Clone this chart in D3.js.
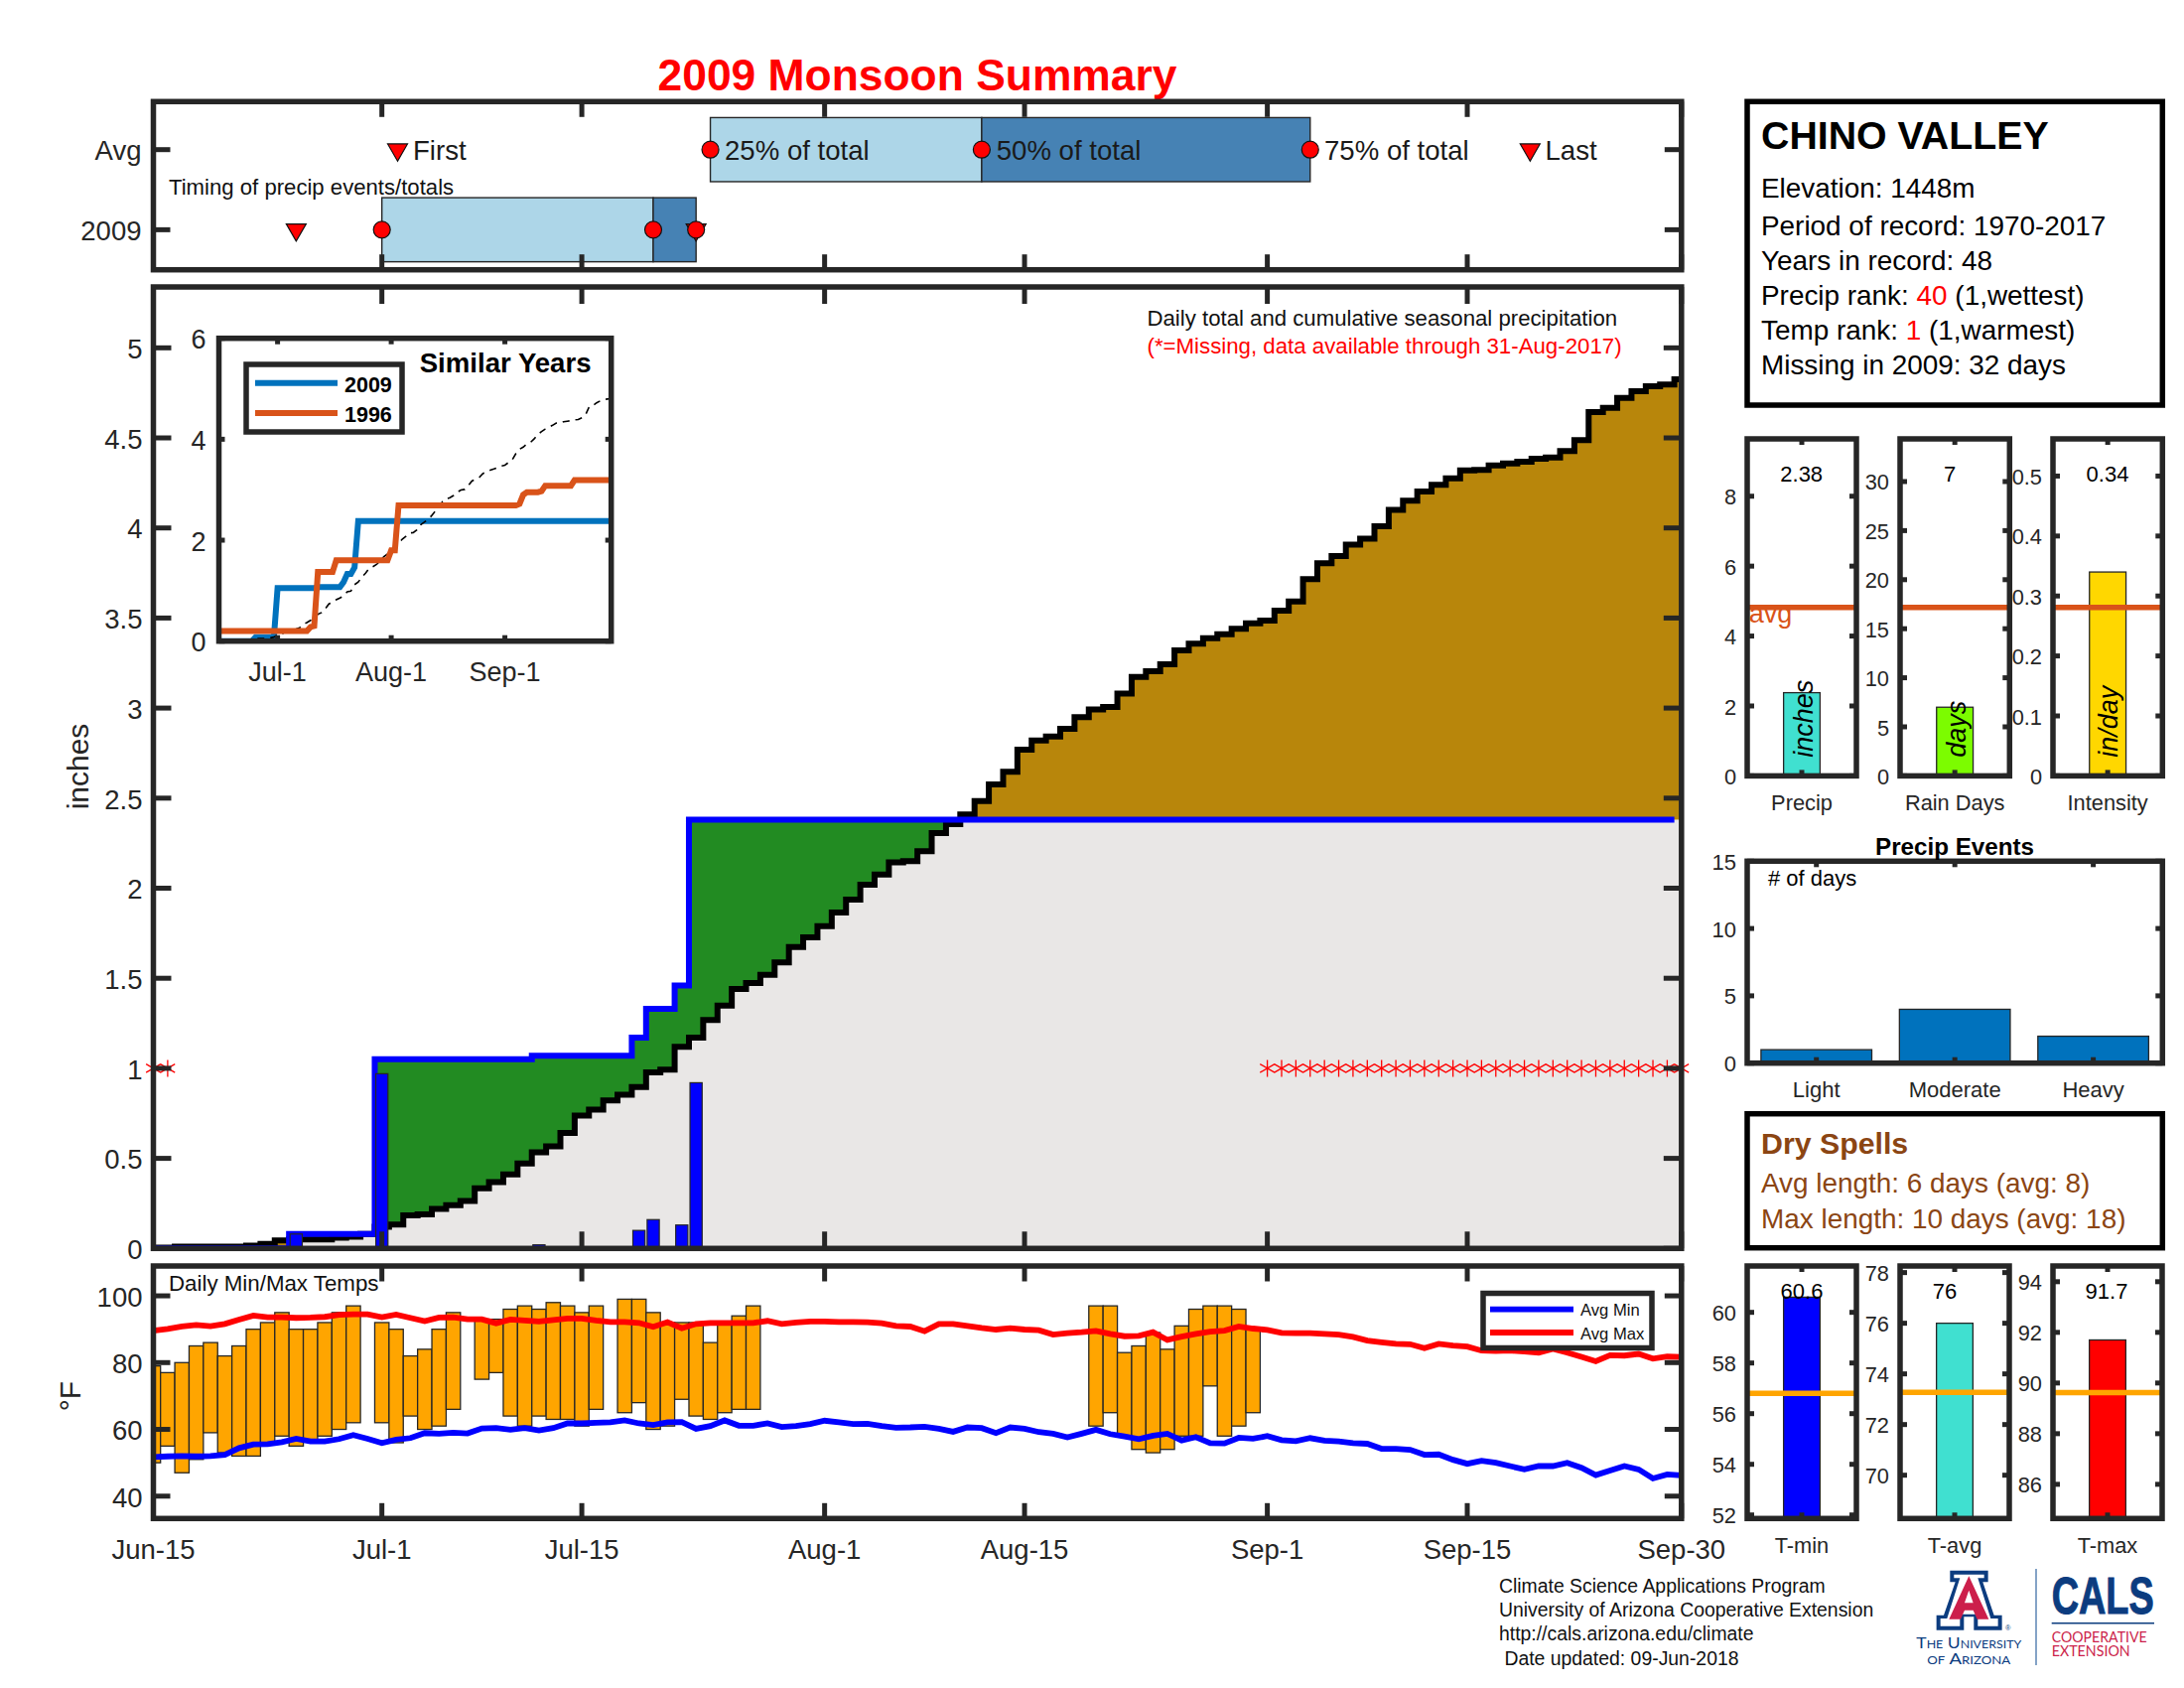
<!DOCTYPE html>
<html><head><meta charset="utf-8">
<script src="https://cdn.jsdelivr.net/npm/d3@7/dist/d3.min.js"></script>
<style>
html,body{margin:0;padding:0;background:#fff}
svg{display:block}
text{font-family:"Liberation Sans",Arial,sans-serif}
</style></head><body>
<svg id="c" width="2200" height="1700"></svg>
<script>
// ---------- data ----------
const dayTicks=[0,16,30,47,61,78,92,107];
const dayLabels=["Jun-15","Jul-1","Jul-15","Aug-1","Aug-15","Sep-1","Sep-15","Sep-30"];
const insetDayTicks=[16,47,78];
const insetDayLabels=["Jul-1","Aug-1","Sep-1"];
const dailyPrecip=[0,0,0,0,0,0,0,0,0,0,0.08,0,0,0,0,0,0.97,0,0,0,0,0,0,0,0,0,0,0.02,0,0,0,0,0,0,0.10,0.16,0,0.13,0.92,0,
0,0,0,0,0,0,0,0,0,0,0,0,0,0,0,0,0,0,0,0,0,0,0,0,0,0,0,0,0,0,0,0,0,0,0,0,0,0,0,0,
0,0,0,0,0,0,0,0,0,0,0,0,0,0,0,0,0,0,0,0,0,0,0,0,0,0,0,0];
const avgCumPrecip=[.005,.005,.01,.01,.01,.01,.01,.015,.025,.044,.05,.05,.05,.06,.065,.08,.12,.132,.183,.189,.22,.24,.264,.334,.368,.411,.472,.533,.567,.641,.738,.771,.821,.854,.896,.977,.992,1.12,1.17,1.268,
1.348,1.44,1.474,1.519,1.588,1.674,1.727,1.789,1.865,1.937,2.019,2.076,2.144,2.15,2.205,2.306,2.356,2.41,2.484,2.576,2.646,2.769,2.82,2.842,2.885,2.949,2.993,3.006,3.08,3.173,3.205,3.243,3.32,3.357,3.388,3.41,3.44,3.471,3.486,3.541,
3.592,3.716,3.804,3.844,3.908,3.94,4.009,4.10,4.151,4.202,4.239,4.276,4.32,4.322,4.347,4.358,4.368,4.384,4.391,4.427,4.487,4.643,4.667,4.722,4.759,4.787,4.796,4.825];
const similar1996=[.2,.2,.2,.2,.2,.2,.2,.2,.2,.2,.2,.2,.2,.2,.2,.2,.2,.2,.2,.2,.2,.2,.2,.2,.2,.28,.3,1.37,1.37,1.37,1.37,1.37,1.6,1.6,1.6,1.6,1.6,1.6,1.6,1.6,
1.6,1.6,1.6,1.6,1.6,1.6,1.6,1.8,1.8,2.69,2.69,2.69,2.69,2.69,2.69,2.69,2.69,2.69,2.69,2.69,2.69,2.69,2.69,2.69,2.69,2.69,2.69,2.69,2.69,2.69,2.69,2.69,2.69,2.69,2.69,2.69,2.69,2.69,2.69,2.69,
2.69,2.69,2.72,2.9,2.95,2.95,2.95,2.95,2.97,3.08,3.08,3.08,3.08,3.08,3.08,3.08,3.08,3.19,3.19,3.19,3.19,3.19,3.19,3.19,3.19,3.19,3.19,3.19];
const missingDays=[0,1,78,79,80,81,82,83,84,85,86,87,88,89,90,91,92,93,94,95,96,97,98,99,100,101,102,103,104,105,106,107];
const mainYTicks=[0,.5,1,1.5,2,2.5,3,3.5,4,4.5,5];
const tMax=[79,77,80,85,86,82,85,90,92,95,90,90,92,95,97,null,92,90,82,84,90,95,null,93,93,96,97,96,98,97,95,97,null,99,99,95,92,92,92,86,92,94,97,
null,null,null,null,null,null,null,null,null,null,null,null,null,null,null,null,null,null,null,null,null,null,null,
97,97,83,85,89,84,91,96,97,97,96,90,
null,null,null,null,null,null,null,null,null,null,null,null,null,null,null,null,null,null,null,null,null,null,null,null,null,null,null,null,null,null];
const tMin=[50,55,47,51,59,53,52,52,56,58,55,57,58,60,62,null,62,56,64,60,61,66,null,75,77,64,61,64,63,63,61,66,null,65,68,60,61,69,64,63,65,66,66,
null,null,null,null,null,null,null,null,null,null,null,null,null,null,null,null,null,null,null,null,null,null,null,
61,65,58,54,53,54,58,58,73,58,61,65,
null,null,null,null,null,null,null,null,null,null,null,null,null,null,null,null,null,null,null,null,null,null,null,null,null,null,null,null,null,null];
const avgMax=[89.6,90.1,90.8,91.3,90.9,91.6,92.9,94.1,93.6,93.6,93.4,93.5,93.7,94.3,94.5,94.5,93.6,94.4,93.4,92.4,93.5,93.6,93.0,93.0,91.8,92.9,92.6,92.3,92.8,93.2,93.2,92.6,92.2,92.2,91.9,90.7,92.1,90.3,91.6,91.9,
91.9,91.9,91.9,92.5,91.6,92.0,92.3,92.3,92.2,92.2,92.1,91.8,91.0,90.8,89.4,91.6,91.6,91.0,90.4,89.9,90.3,89.9,89.7,88.4,88.8,89.1,89.5,88.6,87.9,88.0,89.1,86.8,87.8,88.6,89.3,89.6,90.8,90.2,89.8,88.9,
88.8,88.8,88.6,88.4,87.7,86.6,86.1,85.6,85.5,84.3,85.6,85.1,84.8,83.6,83.5,83.6,83.3,83.0,84.1,83.0,81.7,80.4,82.2,82.1,82.6,81.2,81.8,81.7];
const avgMin=[51.7,51.9,52.0,51.9,52.0,52.4,54.4,55.5,55.6,56.2,57.2,56.4,56.4,57.1,58.3,57.2,55.9,56.9,57.4,58.9,58.7,59.0,58.8,60.3,60.4,59.9,60.4,59.7,60.4,61.8,61.8,62.0,62.1,62.7,61.8,61.3,62.1,62.2,60.2,61.0,
62.7,61.1,61.1,61.8,60.7,61.0,61.6,62.6,62.1,61.6,61.7,61.0,60.5,60.6,60.8,60.2,59.3,60.6,60.4,58.9,60.6,60.2,59.2,58.7,57.6,58.7,59.9,58.6,57.9,57.1,58.1,58.7,56.7,57.7,55.9,55.8,57.5,57.2,58.0,56.8,
56.5,57.4,56.6,56.4,55.9,55.7,54.2,54.2,53.9,52.4,52.5,50.9,49.7,50.6,50.0,49.0,48.0,49.0,49.0,50.0,48.5,46.3,47.7,49.0,48.0,45.3,46.5,46.2];
const tempYTicks=[40,60,80,100];
const timingRows=["2009","Avg"];
const timingFirst=[10,17.1];
const timingLast=[38,96.4];
const timing25=[16,39];
const timing50=[35,58];
const timing75=[38,81];
const timingLabels=[[17.1,"First",416],[39,"25% of total",730],[58,"50% of total",1003.7],[81,"75% of total",1334],[96.4,"Last",1556.5]];
const statNames=["Precip","Rain Days","Intensity"];
const statValues=[2.38,7,0.34];
const statAvgs=[4.82,17.18,0.281];
const statTexts=["2.38","7","0.34"];
const statUnits=["inches","days","in/day"];
const statColors=["#40E0D0","#7CFC00","#FFD700"];
const statMax=[9.64,34.35,0.562];
const statTicks=[[0,2,4,6,8],[0,5,10,15,20,25,30],[0,.1,.2,.3,.4,.5]];
const eventNames=["Light","Moderate","Heavy"];
const eventValues=[1,4,2];
const eventTicks=[0,5,10,15];
const tempNames=["T-min","T-avg","T-max"];
const tempValues=[60.6,76,91.7];
const tempTexts=["60.6","76","91.7"];
const tempAvgs=[56.8,73.27,89.62];
const tempColors=["#0000FF","#40E0D0","#FF0000"];
const tempDomains=[[51.86,61.83],[68.29,78.26],[84.65,94.62]];
const tempTicks=[[52,54,56,58,60],[70,72,74,76,78],[86,88,90,92,94]];
const cityLines=["Elevation: 1448m","Period of record: 1970-2017","Years in record: 48"];
const footer=["Climate Science Applications Program","University of Arizona Cooperative Extension","http://cals.arizona.edu/climate"," Date updated: 09-Jun-2018"];

// ---------- helpers ----------
const svg=d3.select("#c");
const INK="#262626";
const cum=Array.from(d3.cumsum(dailyPrecip));
const days=d3.range(108);
const X0=154.5,X1=1693.8;
const x=d3.scaleLinear().domain([0,107]).range([X0,X1]);

function frame(g,l,t,r,b,color,w){
  g.append("rect").attr("x",l).attr("y",t).attr("width",r-l).attr("height",b-t)
   .attr("fill","none").attr("stroke",color||INK).attr("stroke-width",w||5.5);
}
function axes(xs,ys,o){
  const [l,r]=xs.range(),[b,t]=ys.range();
  const g=svg.append("g");
  const tw=o.tw||5;
  const st=s=>{s.select(".domain").remove();
    s.selectAll(".tick line").attr("stroke",INK).attr("stroke-width",tw);
    s.selectAll(".tick text").attr("fill",INK).style("font-family",'"Liberation Sans",Arial,sans-serif').style("font-size",(o.fs||27)+"px");};
  const xf=o.xf||(()=>"");
  g.append("g").attr("transform",`translate(0,${b})`).call(d3.axisBottom(xs).tickValues(o.xv).tickSize(-o.xl).tickPadding(o.xp||19).tickFormat(xf).offset(0)).call(st);
  g.append("g").attr("transform",`translate(0,${t})`).call(d3.axisTop(xs).tickValues(o.xv).tickSize(-o.xl).tickFormat("").offset(0)).call(st);
  const la=g.append("g").attr("transform",`translate(${l},0)`).call(d3.axisLeft(ys).tickValues(o.yv).tickSize(-o.yl).tickPadding(o.yp||11).tickFormat(o.yf||d3.format("")).offset(0)).call(st);
  la.selectAll(".tick text").attr("dy","0.39em");
  g.append("g").attr("transform",`translate(${r},0)`).call(d3.axisRight(ys).tickValues(o.yv).tickSize(-o.yl).tickFormat("").offset(0)).call(st);
  frame(g,l,t,r,b);
  return g;
}
function label(s,xp,yp,size,opts){
  opts=opts||{};
  const t=svg.append("text").attr("x",xp).attr("y",yp).text(s).attr("font-size",size)
    .attr("fill",opts.fill||"#000").attr("text-anchor",opts.anchor||"start");
  if(opts.bold)t.attr("font-weight","bold");
  if(opts.italic)t.attr("font-style","italic");
  if(opts.rot)t.attr("transform",`rotate(-90 ${xp} ${yp})`);
  return t;
}
function stairPts(v){const p=v.map((d,i)=>[i-.5,d]);p.push([v.length-.5,v[v.length-1]]);return p;}
function clip(id,l,t,r,b){svg.append("clipPath").attr("id",id).append("rect").attr("x",l).attr("y",t).attr("width",r-l).attr("height",b-t);}

// ---------- title ----------
label("2009 Monsoon Summary",924,90.7,44.4,{bold:true,fill:"#FF0000",anchor:"middle"});

// ---------- timing panel ----------
const yT=d3.scaleLinear().domain([0.5,2.6]).range([271.7,102.3]);
const tim=svg.append("g");
[0,1].forEach(i=>{
  const row=i+1;
  tim.append("rect").attr("x",x(timing25[i])).attr("width",x(timing50[i])-x(timing25[i])).attr("y",yT(row+.4)).attr("height",yT(row-.4)-yT(row+.4))
    .attr("fill","#ADD6E8").attr("stroke",INK).attr("stroke-width",1.4);
  tim.append("rect").attr("x",x(timing50[i])).attr("width",x(timing75[i])-x(timing50[i])).attr("y",yT(row+.4)).attr("height",yT(row-.4)-yT(row+.4))
    .attr("fill","#4682B4").attr("stroke",INK).attr("stroke-width",1.4);
  const tri=d3.symbol().type(d3.symbolTriangle).size(173)();
  [timingFirst[i],timingLast[i]].forEach(d=>{
    tim.append("path").attr("d",tri).attr("transform",`translate(${x(d)},${yT(row)}) rotate(180)`).attr("fill","#FF0000").attr("stroke","#111").attr("stroke-width",1.2);
  });
  [timing25[i],timing50[i],timing75[i]].forEach(d=>{
    tim.append("circle").attr("cx",x(d)).attr("cy",yT(row)).attr("r",8.5).attr("fill","#FF0000").attr("stroke","#111").attr("stroke-width",1.2);
  });
});
timingLabels.forEach(d=>label(d[1],d[2],160.7,27.6,{fill:"#1a1a1a"}));
label("Timing of precip events/totals",170,195.5,22.15,{fill:"#111"});
axes(x,yT,{xv:dayTicks,xl:15.5,yv:[1,2],yl:17,fs:27.5,yp:12,yf:d=>timingRows[d-1]});

// ---------- main panel ----------
const yM=d3.scaleLinear().domain([0,5.338]).range([1257.3,289]);
clip("cm",X0,289,X1,1257.3);
const pts=days.map(d=>({d,a:avgCumPrecip[d],b:cum[d]}));
const edge=pts.map(p=>({d:p.d-.5,a:p.a,b:p.b}));
edge.push({d:107.5,a:pts[107].a,b:pts[107].b});
const area=(y0,y1)=>d3.area().curve(d3.curveStepAfter).x(p=>x(p.d)).y0(p=>yM(y0(p))).y1(p=>yM(y1(p)));
const plot=svg.append("g").attr("clip-path","url(#cm)");
plot.append("path").attr("d",area(()=>0,p=>Math.min(p.a,p.b))(edge)).attr("fill","#E9E7E6");
plot.append("path").attr("d",area(p=>Math.min(p.a,p.b),p=>p.b)(edge)).attr("fill","#228B22");
plot.append("path").attr("d",area(p=>p.b,p=>Math.max(p.a,p.b))(edge)).attr("fill","#B8860B");
const stair=d3.line().curve(d3.curveStepAfter).x(p=>x(p[0])).y(p=>yM(p[1]));
plot.append("path").attr("d",stair(stairPts(avgCumPrecip))).attr("fill","none").attr("stroke","#000").attr("stroke-width",6);
plot.append("path").attr("d",stair(stairPts(cum.slice(0,107)))).attr("fill","none").attr("stroke","#0000FF").attr("stroke-width",6);
plot.selectAll("rect.b").data(days.filter(d=>dailyPrecip[d]>0)).join("rect").attr("class","b")
  .attr("x",d=>x(d-.425)).attr("width",d=>x(.85)-x(0)).attr("y",d=>yM(dailyPrecip[d])).attr("height",d=>yM(0)-yM(dailyPrecip[d]))
  .attr("fill","#0000FF").attr("stroke",INK).attr("stroke-width",1.2);
const symA=d3.symbol().type(d3.symbolAsterisk).size(204)();
const stars=svg.append("g").attr("fill","none").attr("stroke","#FF0000").attr("stroke-width",1.3);
missingDays.forEach(d=>{
  stars.append("path").attr("d",symA).attr("transform",`translate(${x(d)},${yM(1)})`);
});
axes(x,yM,{xv:dayTicks,xl:17,yv:mainYTicks,yl:18,fs:27.5,yf:d=>d3.format("")(d)});
label("inches",89,772,30,{fill:INK,anchor:"middle",rot:true});
label("Daily total and cumulative seasonal precipitation",1155.5,327.5,22.2,{fill:"#111"});
label("(*=Missing, data available through 31-Aug-2017)",1155.5,355.5,22.25,{fill:"#FF0000"});

// ---------- inset ----------
const xI=d3.scaleLinear().domain([0,107]).range([220.5,615.7]);
const yI=d3.scaleLinear().domain([0,6]).range([645.7,340.7]);
svg.append("rect").attr("x",220.5).attr("y",340.7).attr("width",395.2).attr("height",305).attr("fill","#fff");
clip("ci",220.5,340.7,615.7,645.7);
const il=d3.line().x((v,i)=>xI(i)).y(v=>yI(v));
const ins=svg.append("g").attr("clip-path","url(#ci)");
ins.append("path").attr("d",il(cum)).attr("fill","none").attr("stroke","#0072BD").attr("stroke-width",6);
ins.append("path").attr("d",il(avgCumPrecip)).attr("fill","none").attr("stroke","#000").attr("stroke-width",1.6).attr("stroke-dasharray","7 6");
ins.append("path").attr("d",il(similar1996)).attr("fill","none").attr("stroke","#D95319").attr("stroke-width",6);
axes(xI,yI,{xv:insetDayTicks,xl:6,yv:[0,2,4,6],yl:6,fs:27,yp:13,xp:21,xf:(d,i)=>insetDayLabels[i]});
const lg=svg.append("g");
lg.append("rect").attr("x",248).attr("y",367).attr("width",157).attr("height",68).attr("fill","#fff").attr("stroke",INK).attr("stroke-width",5.5);
[[385.7,"#0072BD","2009",394.5],[416,"#D95319","1996",425]].forEach(r=>{
  lg.append("line").attr("x1",257).attr("x2",340).attr("y1",r[0]).attr("y2",r[0]).attr("stroke",r[1]).attr("stroke-width",6);
  label(r[2],347,r[3],21.5,{bold:true});
});
label("Similar Years",422.7,375,27.6,{bold:true});

// ---------- temperature panel ----------
const yD=d3.scaleLinear().domain([33.3,108.94]).range([1529.3,1275]);
clip("ct",X0,1275,X1,1529.3);
const tp=svg.append("g").attr("clip-path","url(#ct)");
tp.selectAll("rect").data(days.filter(d=>tMax[d]!==null)).join("rect")
  .attr("x",d=>x(d-.5)).attr("width",d=>x(1)-x(0)).attr("y",d=>yD(tMax[d])).attr("height",d=>yD(tMin[d])-yD(tMax[d]))
  .attr("fill","#FFA500").attr("stroke",INK).attr("stroke-width",1.3);
const tl=d3.line().x((v,i)=>x(i)).y(v=>yD(v));
tp.append("path").attr("d",tl(avgMin)).attr("fill","none").attr("stroke","#0000FF").attr("stroke-width",5.8);
tp.append("path").attr("d",tl(avgMax)).attr("fill","none").attr("stroke","#FF0000").attr("stroke-width",5.8);
label("Daily Min/Max Temps",170,1299.5,22.3,{fill:"#111"});
axes(x,yD,{xv:dayTicks,xl:15.5,yv:tempYTicks,yl:17,fs:27.5,xp:21,xf:(d,i)=>dayLabels[i]});
label("\u00B0F",81,1406,30,{fill:INK,anchor:"middle",rot:true});
const tlg=svg.append("g");
tlg.append("rect").attr("x",1494).attr("y",1302.5).attr("width",170).attr("height",55).attr("fill","#fff").attr("stroke",INK).attr("stroke-width",5.5);
[[1318.7,"#0000FF","Avg Min"],[1342,"#FF0000","Avg Max"]].forEach(r=>{
  tlg.append("line").attr("x1",1501).attr("x2",1585).attr("y1",r[0]).attr("y2",r[0]).attr("stroke",r[1]).attr("stroke-width",5.8);
  label(r[2],1592,r[0]+6.5,16.6,{fill:"#111"});
});

// ---------- station box ----------
const PW=1760,PE=2178.3;
frame(svg,PW,102.3,PE,408,"#000",5.5);
label("CHINO VALLEY",1774,150,39.3,{bold:true});
cityLines.forEach((s,i)=>label(s,1774,[199,237,272][i],27.9));
const r1=label("Precip rank: ",1774,307,27.9);r1.append("tspan").attr("fill","#FF0000").text("40");r1.append("tspan").text(" (1,wettest)");
const r2=label("Temp rank: ",1774,342,27.9);r2.append("tspan").attr("fill","#FF0000").text("1");r2.append("tspan").text(" (1,warmest)");
label("Missing in 2009: 32 days",1774,377,27.9);

// ---------- three stat panels ----------
const statL=[1760,1914,2068],statR=[1870,2024.3,2178.3],statTextX=[1814.7,1964,2123],unitX=[1826,1980,2133];
statNames.forEach((n,i)=>{
  const xs=d3.scaleLinear().domain([0,1]).range([statL[i],statR[i]]);
  const ys=d3.scaleLinear().domain([0,statMax[i]]).range([781.4,442]);
  svg.append("rect").attr("x",xs(.333)).attr("width",xs(.667)-xs(.333)).attr("y",ys(statValues[i])).attr("height",ys(0)-ys(statValues[i]))
    .attr("fill",statColors[i]).attr("stroke",INK).attr("stroke-width",1.3);
  svg.append("line").attr("x1",xs(0)).attr("x2",xs(1)).attr("y1",ys(statAvgs[i])).attr("y2",ys(statAvgs[i])).attr("stroke","#D95319").attr("stroke-width",5.5);
  axes(xs,ys,{xv:[.5],xl:6,yv:statTicks[i],yl:7,fs:21.8,xf:()=>n,yf:d=>d3.format("")(d)});
  label(statTexts[i],statTextX[i],485,22,{anchor:"middle"});
  label(statUnits[i],unitX[i],762.7,27,{italic:true,rot:true});
});
label("avg",1761.7,626.7,27,{fill:"#D95319"});

// ---------- precip events ----------
const xEc=d3.scalePoint().domain(eventNames).range([PW+69.7,PE-69.7]);
const yE=d3.scaleLinear().domain([0,15]).range([1070.7,867.3]);
svg.selectAll("rect.e").data(eventNames).join("rect").attr("class","e")
  .attr("x",d=>xEc(d)-55.8).attr("width",111.6).attr("y",(d,i)=>yE(eventValues[i])).attr("height",(d,i)=>yE(0)-yE(eventValues[i]))
  .attr("fill","#0072BD").attr("stroke",INK).attr("stroke-width",1.3);
{
  const g=svg.append("g");
  const st=s=>{s.select(".domain").remove();s.selectAll(".tick line").attr("stroke",INK).attr("stroke-width",5);
    s.selectAll(".tick text").attr("fill",INK).style("font-family",'"Liberation Sans",Arial,sans-serif').style("font-size","22px");};
  g.append("g").attr("transform","translate(0,1070.7)").call(d3.axisBottom(xEc).tickSize(-6).tickPadding(18.5).offset(0)).call(st);
  g.append("g").attr("transform","translate(0,867.3)").call(d3.axisTop(xEc).tickSize(-6).tickFormat("").offset(0)).call(st);
  g.append("g").attr("transform",`translate(${PW},0)`).call(d3.axisLeft(yE).tickValues(eventTicks).tickSize(-7).tickPadding(11).offset(0)).call(st)
    .selectAll(".tick text").attr("dy","0.39em");
  g.append("g").attr("transform",`translate(${PE},0)`).call(d3.axisRight(yE).tickValues(eventTicks).tickSize(-7).tickFormat("").offset(0)).call(st);
  frame(g,PW,867.3,PE,1070.7);
}
label("Precip Events",1969,860.5,24.2,{bold:true,anchor:"middle"});
label("# of days",1781,891.7,22);

// ---------- dry spells ----------
frame(svg,PW,1121.7,PE,1256.7,"#000",5.5);
label("Dry Spells",1774,1161.7,30.3,{bold:true,fill:"#8B4513"});
label("Avg length: 6 days (avg: 8)",1774,1201,27.9,{fill:"#8B4513"});
label("Max length: 10 days (avg: 18)",1774,1237,27.9,{fill:"#8B4513"});

// ---------- temperature stat panels ----------
const tempTextX=[1815,1959,2122];
tempNames.forEach((n,i)=>{
  const xs=d3.scaleLinear().domain([0,1]).range([statL[i],[1870,2024,2178][i]]);
  const ys=d3.scaleLinear().domain(tempDomains[i]).range([1529.3,1275]);
  svg.append("rect").attr("x",xs(.333)).attr("width",xs(.667)-xs(.333)).attr("y",ys(tempValues[i])).attr("height",ys(tempDomains[i][0])-ys(tempValues[i]))
    .attr("fill",tempColors[i]).attr("stroke",INK).attr("stroke-width",1.3);
  svg.append("line").attr("x1",xs(0)).attr("x2",xs(1)).attr("y1",ys(tempAvgs[i])).attr("y2",ys(tempAvgs[i])).attr("stroke","#FFA500").attr("stroke-width",5.5);
  axes(xs,ys,{xv:[.5],xl:6,yv:tempTicks[i],yl:7,fs:21.8,xp:19,xf:()=>n});
  label(tempTexts[i],tempTextX[i],1308,22,{anchor:"middle"});
});

// ---------- footer ----------
footer.forEach((s,i)=>label(s,1510,[1603.5,1628,1652,1676.5][i],19.4,{fill:"#111"}).style("white-space","pre"));

// ---------- logo ----------
const NAVY="#0C3C7F",RED="#CC1F4B";
const lgo=svg.append("g").attr("transform","translate(1720,1260) scale(.3333)");
lgo.append("path").attr("fill",NAVY).attr("d","M733 965H848V1000H832L866 1100H890V1145H805V1105H775V1145H692V1100H714L749 1000H733Z");
lgo.append("path").attr("fill","#fff").attr("d","M745 977H836V988H817L856 1110H878V1133H817V1097H763V1133H704V1110H724L763 988H745Z");
lgo.append("path").attr("fill",RED).attr("fill-rule","evenodd").attr("d","M790 982L850 1112H815L803 1085H777L765 1112H730ZM790 1025L777 1063H803Z");
lgo.append("text").attr("x",908).attr("y",1145).attr("font-size",22).attr("fill",NAVY).attr("text-anchor","middle").text("\u00AE");
const caps=(s,xp,yp,size,len,anchor,fill)=>svg.append("text").attr("x",xp).attr("y",yp).attr("font-size",size).attr("fill",fill).attr("text-anchor",anchor)
  .style("font-family","Lato").style("font-variant","small-caps").attr("textLength",len).attr("lengthAdjust","spacingAndGlyphs").text(s);
caps("The University",1983.3,1660,15.5,106,"middle",NAVY);
caps("of Arizona",1983.3,1676,15.5,84,"middle",NAVY);
svg.append("line").attr("x1",2051).attr("x2",2051).attr("y1",1580).attr("y2",1677).attr("stroke","#5B85B5").attr("stroke-width",1.5);
const calsT=svg.append("text").attr("font-size",51).attr("font-weight","bold").attr("fill",NAVY).attr("stroke",NAVY).attr("stroke-width",1).text("CALS");
calsT.attr("transform",`translate(2066.7,1625) scale(${103/calsT.node().getComputedTextLength()},1)`);
svg.append("line").attr("x1",2066.7).attr("x2",2170).attr("y1",1634.7).attr("y2",1634.7).attr("stroke",NAVY).attr("stroke-width",1.5);
svg.append("text").attr("x",2066.7).attr("y",1654).attr("font-size",14.8).attr("fill",RED).style("font-family","Lato").attr("textLength",96).attr("lengthAdjust","spacingAndGlyphs").text("COOPERATIVE");
svg.append("text").attr("x",2066.7).attr("y",1668.3).attr("font-size",14.8).attr("fill",RED).style("font-family","Lato").attr("textLength",79).attr("lengthAdjust","spacingAndGlyphs").text("EXTENSION");
</script>
</body></html>
